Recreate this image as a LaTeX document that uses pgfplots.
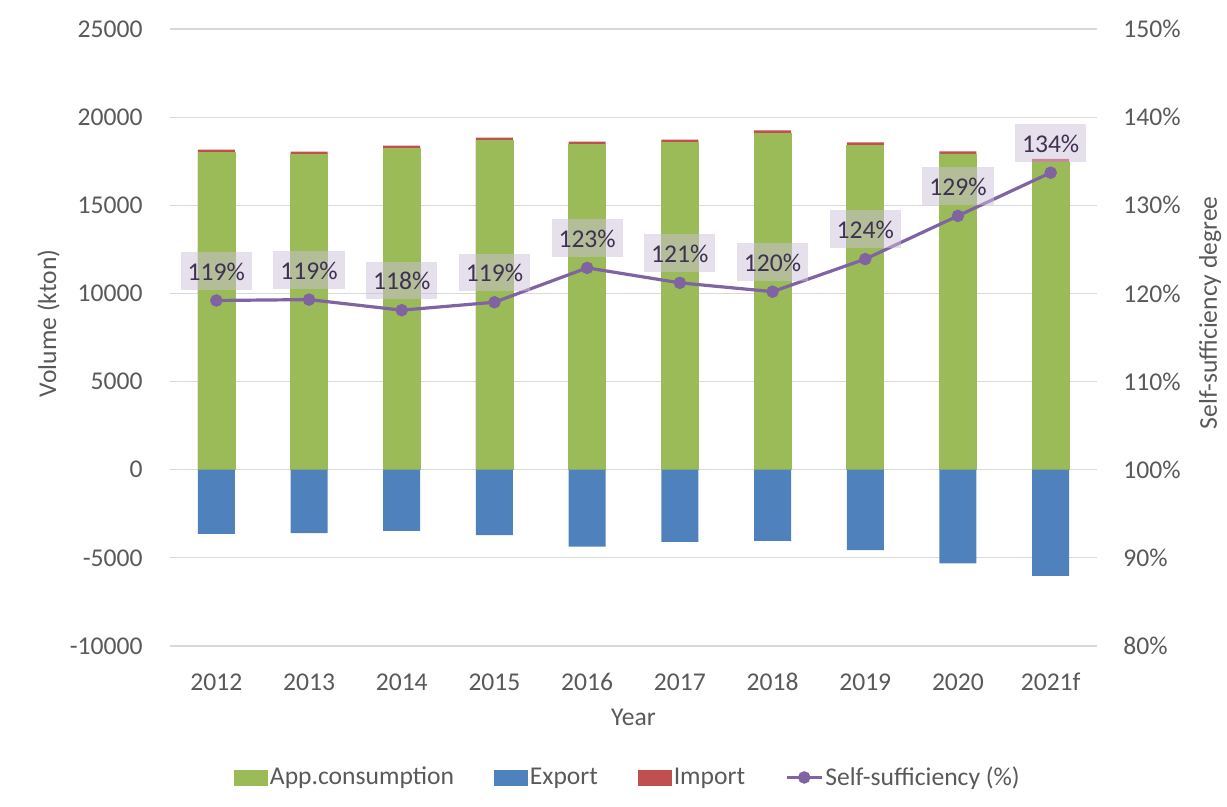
\documentclass[border=0pt]{standalone}
\usepackage{pgfplots}
\pgfplotsset{compat=1.18}
\usepackage{pgfplotstable}
\usepackage{fontspec}
\setmainfont{Carlito}

\definecolor{cgreen}{HTML}{9BBB59}
\definecolor{cblue}{HTML}{4F81BD}
\definecolor{cred}{HTML}{C0504D}
\definecolor{cpurple}{HTML}{8064A2}
\definecolor{ctext}{HTML}{595959}
\definecolor{cgrid}{HTML}{D9D9D9}
\definecolor{clabfill}{HTML}{CCC1DA}
\definecolor{clabtext}{HTML}{3F3151}

% x: 0=2012 ... 9=2021f ; tot = app.consumption + import
\pgfplotstableread{
x cons exp tot
0 17990 -3640 18160
1 17875 -3600 18045
2 18215 -3470 18385
3 18670 -3710 18840
4 18440 -4370 18610
5 18555 -4090 18725
6 19080 -4030 19250
7 18400 -4560 18570
8 17915 -5310 18060
9 17460 -6020 17630
}\volumes

\pgfplotstableread{
x ss lab
0 119.2 119
1 119.3 119
2 118.1 118
3 119.0 119
4 122.9 123
5 121.2 121
6 120.2 120
7 123.9 124
8 128.8 129
9 133.7 134
}\selfsuff

\pgfplotsset{
  base/.style={
    at={(0,0)}, anchor=south west,
    scale only axis, width=463.5pt, height=308.5pt,
    xmin=-0.5, xmax=9.5,
    axis line style={draw=none},
    major tick length=0pt,
    scaled y ticks=false,
    tick label style={font=\fontsize{12.8}{15.4}\selectfont, text=ctext},
  }
}

\begin{document}
\begin{tikzpicture}[font=\fontsize{12.8}{15.4}\selectfont]
\begin{axis}[
  base,
  ymin=-10000, ymax=25000,
  ytick={-10000,-5000,0,5000,10000,15000,20000,25000},
  yticklabels={-10000,-5000,0,5000,10000,15000,20000,25000},
  xtick={0,1,2,3,4,5,6,7,8,9},
  xticklabels={2012,2013,2014,2015,2016,2017,2018,2019,2020,2021f},
  ymajorgrids, grid style={draw=cgrid, line width=0.6pt},
  ybar, bar width=18.5pt, bar shift=0pt,
  xlabel={Year}, ylabel={Volume (kton)},
  every axis x label/.style={at={(axis description cs:0.5,-0.115)}, anchor=center,
    text=ctext, font=\fontsize{12.8}{15.4}\selectfont},
  every axis y label/.style={at={(axis description cs:-0.131,0.523)}, anchor=center, rotate=90,
    text=ctext, font=\fontsize{12.8}{15.4}\selectfont},
  yticklabel style={anchor=east, xshift=-10.2pt},
  xticklabel style={anchor=center, yshift=-18pt},
]
\addplot[fill=cred, draw=none] table[x=x, y=tot]{\volumes};
\addplot[fill=cgreen, draw=cgreen, line width=0.3pt] table[x=x, y=cons]{\volumes};
\addplot[fill=cblue, draw=none] table[x=x, y=exp]{\volumes};
\end{axis}

\begin{axis}[
  base,
  ymin=80, ymax=150,
  ytick={80,90,100,110,120,130,140,150},
  yticklabels={80\%,90\%,100\%,110\%,120\%,130\%,140\%,150\%},
  xtick=\empty,
  yticklabel pos=right,
  yticklabel style={anchor=west, xshift=9.7pt},
  ylabel={Self-sufficiency degree},
  every axis y label/.style={at={(axis description cs:1.122,0.54)}, anchor=center, rotate=90,
    text=ctext, font=\fontsize{12.8}{15.4}\selectfont},
  legend columns=4,
  legend style={at={(axis description cs:0.494,-0.2131)}, anchor=center,
    draw=none, fill=none, font=\fontsize{12.8}{15.4}\selectfont, text=ctext,
    nodes={inner sep=1pt},
    /tikz/every even column/.append style={column sep=19pt}},
]
\addlegendimage{legend image code/.code={\fill[cgreen] (0pt,-3.75pt) rectangle (16.5pt,3.75pt);}}
\addlegendimage{legend image code/.code={\fill[cblue] (0pt,-3.75pt) rectangle (16.5pt,3.75pt);}}
\addlegendimage{legend image code/.code={\fill[cred] (0pt,-3.75pt) rectangle (16.5pt,3.75pt);}}
\addplot[cpurple, line width=1.6pt, mark=*, mark size=2.3pt,
  mark options={fill=cpurple, draw=none},
  point meta=explicit symbolic,
  nodes near coords={\pgfplotspointmeta\%},
  every node near coord/.style={anchor=south, yshift=4.65pt,
    fill=clabfill, fill opacity=0.5, text opacity=1, text=clabtext,
    inner xsep=3.5pt, inner ysep=0pt, text height=14.15pt, text depth=4.7pt,
    font=\fontsize{12.8}{15.4}\selectfont},
  legend image code/.code={\draw[cpurple, line width=1.6pt] (0pt,0pt) -- (17.5pt,0pt);
    \fill[cpurple] (8.75pt,0pt) circle (2.3pt);}
] table[x=x, y=ss, meta=lab]{\selfsuff};
\legend{App.consumption, Export, Import, Self-sufficiency (\%)}
\end{axis}
\pgfresetboundingbox
\useasboundingbox (-85pt,-80.5pt) rectangle (528.5pt,323pt);
\end{tikzpicture}
\end{document}
